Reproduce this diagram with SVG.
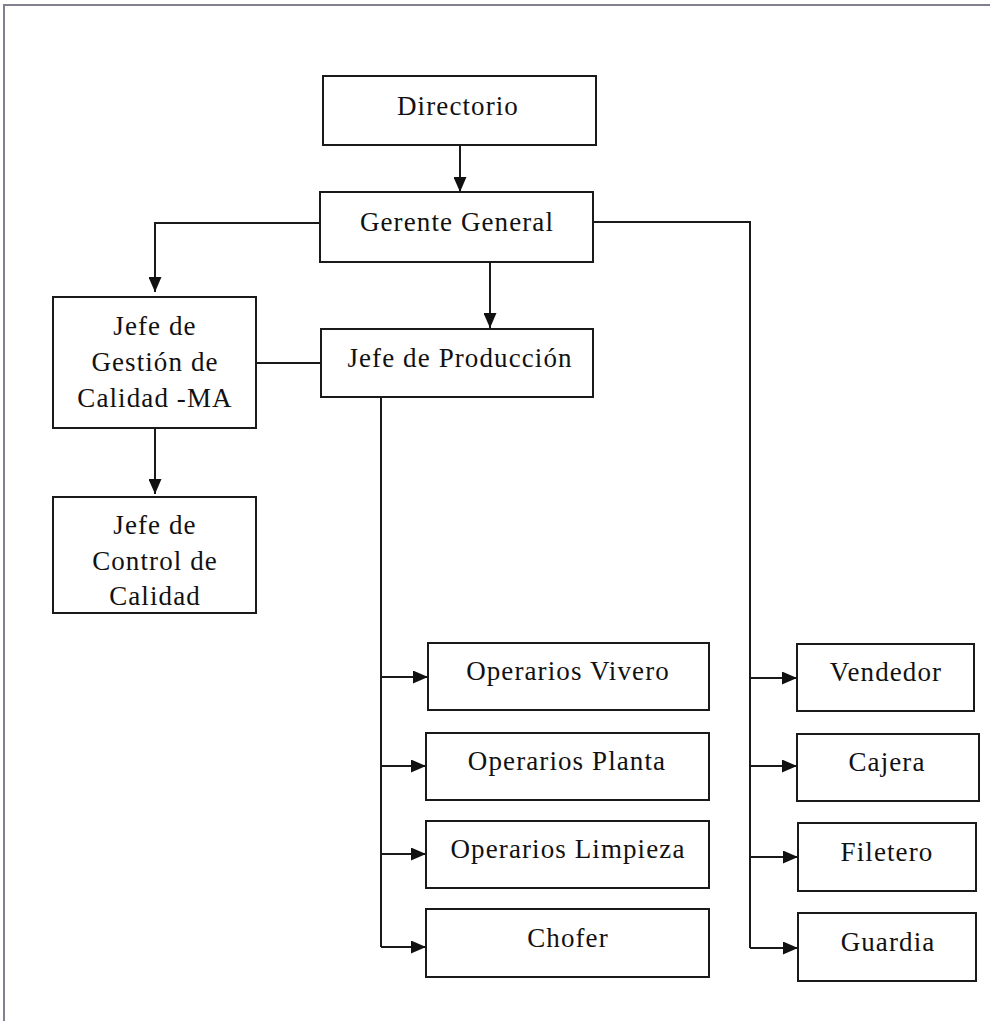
<svg xmlns="http://www.w3.org/2000/svg" width="990" height="1021" viewBox="0 0 990 1021">
<defs>
<style>
.box{fill:#fff;stroke:#1a1a1a;stroke-width:2}
.lbl{font-family:'Liberation Serif','Times New Roman',serif;font-size:27px;letter-spacing:1.1px;fill:#111;text-anchor:middle}
.conn{fill:none;stroke:#1a1a1a;stroke-width:2}
.frame{stroke:#80808f;stroke-width:2;fill:none}
</style>
<marker id="ah" markerUnits="userSpaceOnUse" markerWidth="16" markerHeight="13" refX="15" refY="6.5" orient="auto">
<path d="M0,0 L15,6.5 L0,13 Z" fill="#111"/>
</marker>
</defs>
<rect width="990" height="1021" fill="#fff"/>
<path class="frame" d="M4,1021 V5 H990"/>
<g id="connectors">
<path class="conn" d="M460,145 V192" marker-end="url(#ah)"/>
<path class="conn" d="M320,223 H155 V292" marker-end="url(#ah)"/>
<path class="conn" d="M490,262 V328" marker-end="url(#ah)"/>
<path class="conn" d="M256,363 H321"/>
<path class="conn" d="M155,428 V494" marker-end="url(#ah)"/>
<path class="conn" d="M381,397 V947"/>
<path class="conn" d="M381,677 H428" marker-end="url(#ah)"/>
<path class="conn" d="M381,766 H426" marker-end="url(#ah)"/>
<path class="conn" d="M381,854 H426" marker-end="url(#ah)"/>
<path class="conn" d="M381,947 H426" marker-end="url(#ah)"/>
<path class="conn" d="M593,222 H750 V948"/>
<path class="conn" d="M750,678 H797" marker-end="url(#ah)"/>
<path class="conn" d="M750,766 H797" marker-end="url(#ah)"/>
<path class="conn" d="M750,857 H798" marker-end="url(#ah)"/>
<path class="conn" d="M750,948 H798" marker-end="url(#ah)"/>
</g>
<g id="directorio"><rect class="box" x="323" y="76" width="273" height="69"/><text class="lbl" x="458" y="115">Directorio</text></g>
<g id="gerente-general"><rect class="box" x="320" y="192" width="273" height="70"/><text class="lbl" x="457" y="231">Gerente General</text></g>
<g id="jefe-gestion-calidad"><rect class="box" x="53" y="297" width="203" height="131"/>
<text class="lbl" x="155" y="335">Jefe de</text>
<text class="lbl" x="155" y="371">Gestión de</text>
<text class="lbl" x="155" y="407">Calidad -MA</text></g>
<g id="jefe-produccion"><rect class="box" x="321" y="329" width="272" height="68"/><text class="lbl" x="460" y="367">Jefe de Producción</text></g>
<g id="jefe-control-calidad"><rect class="box" x="53" y="497" width="203" height="116"/>
<text class="lbl" x="155" y="534">Jefe de</text>
<text class="lbl" x="155" y="570">Control de</text>
<text class="lbl" x="155" y="605">Calidad</text></g>
<g id="operarios-vivero"><rect class="box" x="428" y="643" width="281" height="67"/><text class="lbl" x="568" y="680">Operarios Vivero</text></g>
<g id="operarios-planta"><rect class="box" x="426" y="733" width="283" height="67"/><text class="lbl" x="567" y="770">Operarios Planta</text></g>
<g id="operarios-limpieza"><rect class="box" x="426" y="821" width="283" height="67"/><text class="lbl" x="568" y="858">Operarios Limpieza</text></g>
<g id="chofer"><rect class="box" x="426" y="909" width="283" height="68"/><text class="lbl" x="568" y="947">Chofer</text></g>
<g id="vendedor"><rect class="box" x="797" y="644" width="177" height="67"/><text class="lbl" x="886" y="681">Vendedor</text></g>
<g id="cajera"><rect class="box" x="797" y="734" width="182" height="67"/><text class="lbl" x="887" y="771">Cajera</text></g>
<g id="filetero"><rect class="box" x="798" y="823" width="178" height="68"/><text class="lbl" x="887" y="861">Filetero</text></g>
<g id="guardia"><rect class="box" x="798" y="913" width="178" height="68"/><text class="lbl" x="888" y="951">Guardia</text></g>
</svg>
